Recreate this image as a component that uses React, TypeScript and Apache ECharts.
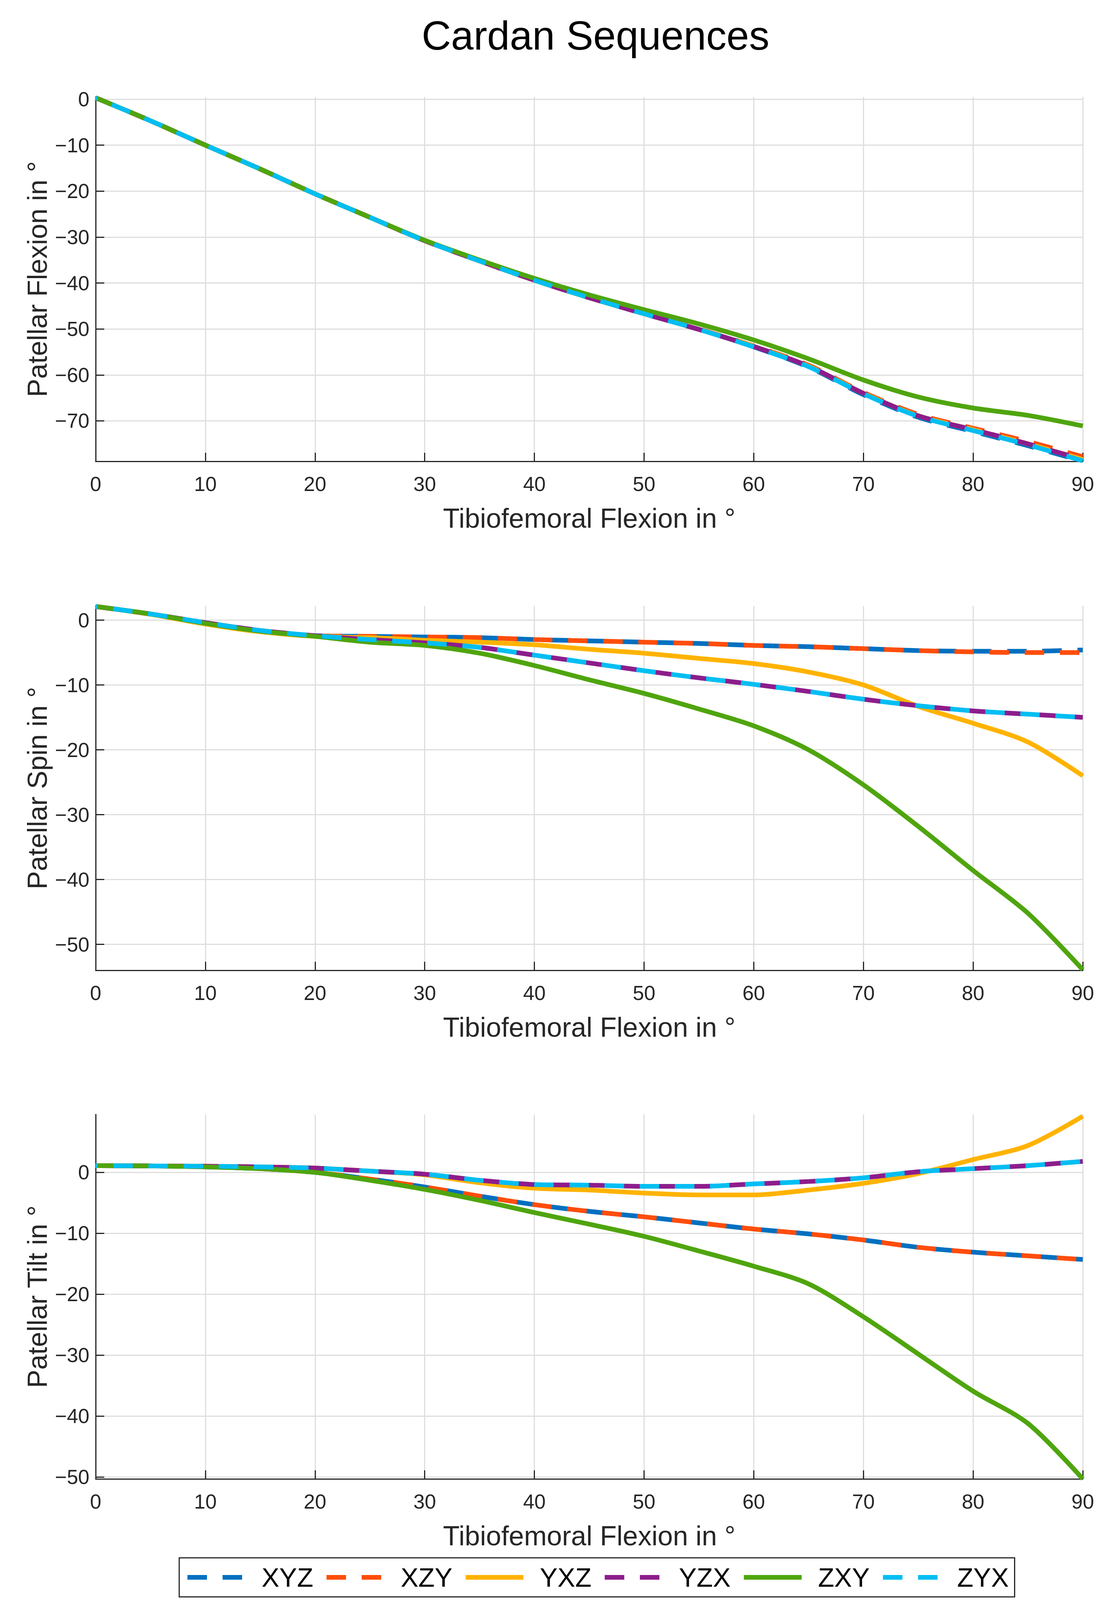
import React, { useEffect, useRef } from "react";
import * as echarts from "echarts";

// Tibiofemoral flexion angles (x), every 5 degrees
const flexionDeg = [0, 5, 10, 15, 20, 25, 30, 35, 40, 45, 50, 55, 60, 65, 70, 75, 80, 85, 90];

const seqNames = ["XYZ", "XZY", "YXZ", "YZX", "ZXY", "ZYX"];
const seqColors = ["#0070C0", "#FF4D0A", "#FFB300", "#8C1D8C", "#4FA50E", "#00BEF2"];
const seqDashed = [true, true, false, true, false, true];
const seqDashOffset = [0, 45, 0, 0, 0, 45];

// Patellar Flexion in °
const flexXYZ = [0.3, -4.7, -10.0, -15.2, -20.6, -25.7, -30.8, -35.2, -39.4, -43.2, -46.7, -50.1, -53.9, -58.3, -64.3, -69.2, -72.3, -75.4, -78.8];
const flexXZY = [0.3, -4.7, -10.0, -15.2, -20.6, -25.7, -30.8, -35.2, -39.4, -43.2, -46.6, -50.0, -53.7, -57.9, -63.8, -68.6, -71.6, -74.5, -77.8];
const flexYXZ = [0.3, -4.7, -10.0, -15.2, -20.6, -25.7, -30.8, -35.2, -39.4, -43.2, -46.7, -50.1, -53.8, -58.1, -64.0, -68.9, -71.9, -75.0, -78.4];
const flexYZX = [0.3, -4.7, -10.0, -15.2, -20.6, -25.7, -30.8, -35.2, -39.4, -43.2, -46.7, -50.1, -53.8, -58.1, -64.0, -68.9, -71.9, -75.0, -78.4];
const flexZXY = [0.3, -4.7, -10.0, -15.2, -20.6, -25.7, -30.7, -35.0, -39.0, -42.6, -45.8, -48.9, -52.4, -56.5, -61.1, -64.8, -67.2, -68.8, -71.1];
const flexZYX = [0.3, -4.7, -10.0, -15.2, -20.6, -25.7, -30.8, -35.2, -39.4, -43.2, -46.7, -50.1, -53.9, -58.2, -64.1, -69.0, -72.1, -75.2, -78.7];

// Patellar Spin in °
const spinXYZ = [2.1, 0.95, -0.4, -1.6, -2.4, -2.5, -2.6, -2.7, -3.0, -3.2, -3.4, -3.6, -3.9, -4.1, -4.4, -4.7, -4.8, -4.8, -4.6];
const spinXZY = [2.1, 0.95, -0.4, -1.6, -2.4, -2.5, -2.6, -2.7, -3.0, -3.2, -3.4, -3.6, -3.9, -4.1, -4.4, -4.7, -4.9, -5.0, -5.0];
const spinYXZ = [2.1, 0.9, -0.6, -1.8, -2.5, -2.7, -3.1, -3.4, -3.8, -4.5, -5.1, -5.9, -6.7, -8.0, -10.0, -13.3, -15.9, -18.8, -24.0];
const spinYZX = [2.1, 0.95, -0.4, -1.6, -2.4, -3.0, -3.5, -4.2, -5.4, -6.6, -7.8, -8.9, -9.9, -11.0, -12.2, -13.2, -14.0, -14.5, -15.0];
const spinZXY = [2.1, 0.95, -0.5, -1.7, -2.5, -3.4, -3.9, -5.1, -7.0, -9.2, -11.3, -13.7, -16.3, -20.0, -25.4, -31.8, -38.6, -45.2, -53.9];
const spinZYX = [2.1, 0.95, -0.4, -1.6, -2.4, -3.0, -3.5, -4.2, -5.4, -6.6, -7.8, -8.9, -9.9, -11.0, -12.2, -13.2, -14.0, -14.5, -15.0];

// Patellar Tilt in °
const tiltXYZ = [1.1, 1.05, 0.9, 0.6, 0.0, -1.1, -2.4, -3.9, -5.3, -6.4, -7.3, -8.3, -9.3, -10.1, -11.1, -12.3, -13.1, -13.7, -14.3];
const tiltXZY = [1.1, 1.05, 0.9, 0.6, 0.0, -1.1, -2.4, -3.9, -5.3, -6.4, -7.3, -8.3, -9.3, -10.1, -11.1, -12.3, -13.1, -13.7, -14.3];
const tiltYXZ = [1.1, 1.05, 1.0, 0.9, 0.7, 0.2, -0.4, -1.7, -2.6, -2.9, -3.4, -3.7, -3.7, -2.9, -1.8, -0.2, 2.1, 4.4, 9.2];
const tiltYZX = [1.1, 1.05, 1.0, 0.9, 0.7, 0.2, -0.3, -1.3, -2.0, -2.1, -2.3, -2.3, -1.9, -1.5, -0.9, 0.1, 0.6, 1.1, 1.8];
const tiltZXY = [1.1, 1.05, 0.9, 0.6, 0.0, -1.3, -2.8, -4.6, -6.6, -8.5, -10.5, -12.9, -15.4, -18.3, -23.7, -29.8, -35.9, -41.2, -50.3];
const tiltZYX = [1.1, 1.05, 1.0, 0.9, 0.7, 0.2, -0.3, -1.3, -2.0, -2.1, -2.3, -2.3, -1.9, -1.5, -0.9, 0.1, 0.6, 1.1, 1.8];

const xTicks = [0, 10, 20, 30, 40, 50, 60, 70, 80, 90];
const flexTicks = [-70, -60, -50, -40, -30, -20, -10, 0];
const spinTicks = [-50, -40, -30, -20, -10, 0];
const tiltTicks = [-50, -40, -30, -20, -10, 0];

const panels = [
  { yName: "Patellar Flexion in °", min: -78.8, max: 0.5, ticks: flexTicks, lines: [flexXYZ, flexXZY, flexYXZ, flexYZX, flexZXY, flexZYX] },
  { yName: "Patellar Spin in °", min: -54, max: 2.2, ticks: spinTicks, lines: [spinXYZ, spinXZY, spinYXZ, spinYZX, spinZXY, spinZYX] },
  { yName: "Patellar Tilt in °", min: -50.3, max: 9.5, ticks: tiltTicks, lines: [tiltXYZ, tiltXZY, tiltYXZ, tiltYZX, tiltZXY, tiltZYX] },
];

const FONT = "'Liberation Sans', Arial, Helvetica, sans-serif";
const AXIS_COLOR = "#262626";
const GRID_TOPS = [248, 1551, 2853];

const fmtTick = (v: number) => (v < 0 ? "\u2212" + Math.abs(v) : String(v));

export default function App() {
  const ref = useRef<HTMLDivElement | null>(null);

  useEffect(() => {
    if (!ref.current) return;
    document.body.style.margin = "0";
    const chart = echarts.init(ref.current, null, { renderer: "svg" });

    const axisLine = { show: true, onZero: false, lineStyle: { color: AXIS_COLOR, width: 3 } };
    const axisTick = { show: true, inside: true, length: 22, lineStyle: { color: AXIS_COLOR, width: 3 } };
    const splitLine = { show: true, lineStyle: { color: "#dedede", width: 3 } };

    const option: any = {
      animation: false,
      backgroundColor: "#ffffff",
      title: {
        text: "Cardan Sequences",
        left: 1075,
        top: 34,
        textStyle: { fontFamily: FONT, fontSize: 104, fontWeight: "normal", color: "#000" },
      },
      legend: {
        data: seqNames,
        orient: "horizontal",
        left: 459,
        top: 3988,
        itemWidth: 148,
        itemHeight: 24,
        itemGap: 28,
        padding: [14, 15],
        borderColor: AXIS_COLOR,
        borderWidth: 3,
        backgroundColor: "#fff",
        itemStyle: { opacity: 0 },
        lineStyle: { width: 12, dashOffset: 0 },
        textStyle: { fontFamily: FONT, fontSize: 68, color: "#000", padding: [0, 0, 0, 37], lineHeight: 72 },
      },
      grid: panels.map((_, p) => ({
        left: 245,
        right: 80,
        top: GRID_TOPS[p],
        height: 933,
        containLabel: false,
        outerBoundsMode: "none",
      })),
      xAxis: panels.map((_, p) => ({
        type: "value",
        gridIndex: p,
        min: 0,
        max: 90,
        interval: 10,
        name: "Tibiofemoral Flexion in °",
        nameLocation: "middle",
        nameGap: 111,
        nameMoveOverlap: false,
        nameTextStyle: { fontFamily: FONT, fontSize: 70, color: AXIS_COLOR },
        axisLine,
        axisTick: { ...axisTick, customValues: xTicks },
        axisLabel: { fontFamily: FONT, fontSize: 52, color: AXIS_COLOR, margin: 32, customValues: xTicks },
        splitLine,
      })),
      yAxis: panels.map((panel, p) => ({
        type: "value",
        gridIndex: p,
        min: panel.min,
        max: panel.max,
        name: panel.yName,
        nameLocation: "middle",
        nameGap: 114,
        nameMoveOverlap: false,
        nameTextStyle: { fontFamily: FONT, fontSize: 70, color: AXIS_COLOR },
        axisLine,
        axisTick: { ...axisTick, customValues: panel.ticks },
        axisLabel: { fontFamily: FONT, fontSize: 52, color: AXIS_COLOR, margin: 16, customValues: panel.ticks, formatter: fmtTick },
        splitLine,
      })),
      series: panels.flatMap((panel, p) =>
        panel.lines.map((vals, i) => ({
          type: "line",
          name: seqNames[i],
          xAxisIndex: p,
          yAxisIndex: p,
          data: flexionDeg.map((x, k) => [x, vals[k]]),
          symbol: "none",
          smooth: 0.3,
          lineStyle: {
            color: seqColors[i],
            width: 12,
            type: seqDashed[i] ? [50, 40] : "solid",
            dashOffset: seqDashOffset[i],
            cap: "butt",
          },
          itemStyle: { color: seqColors[i] },
          emphasis: { disabled: true },
        }))
      ),
    };

    chart.setOption(option);
    return () => chart.dispose();
  }, []);

  return <div ref={ref} style={{ width: 2853, height: 4176 }} />;
}
